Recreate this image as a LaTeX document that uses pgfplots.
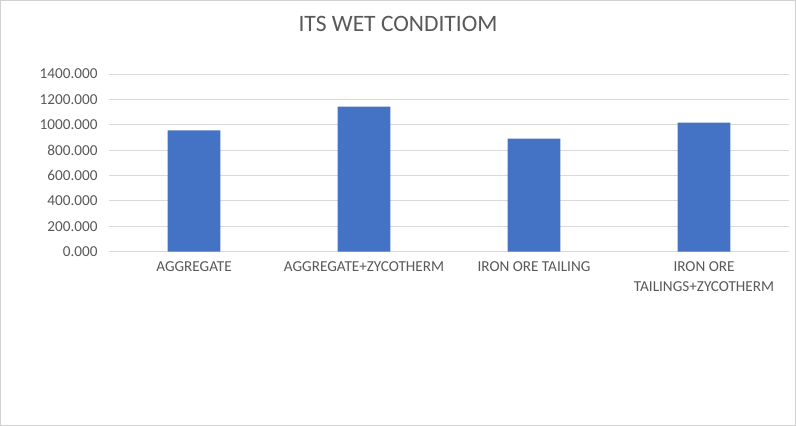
\documentclass[border=0pt]{standalone}
\usepackage{fontspec}
\setmainfont{Carlito}
\usepackage{pgfplots}
\pgfplotsset{compat=1.18}
\definecolor{barblue}{HTML}{4472C4}
\definecolor{gridgray}{HTML}{D9D9D9}
\definecolor{labgray}{HTML}{595959}
\definecolor{framegray}{HTML}{D0D0D0}
\begin{document}
\begin{tikzpicture}
\fill[white] (-109pt,-174.3pt) rectangle (687pt,251.7pt);
\draw[framegray,line width=1.5pt] (-108.25pt,-173.55pt) rectangle (686.25pt,250.95pt);
\begin{axis}[
  at={(0,0)}, anchor=south west,
  scale only axis,
  width=680pt, height=177.7pt,
  xmin=-0.5, xmax=3.5,
  ymin=0, ymax=1400,
  ytick={0,200,...,1400},
  xtick={0,1,2,3},
  xticklabels={AGGREGATE,AGGREGATE+ZYCOTHERM,IRON ORE TAILING,{IRON ORE\\TAILINGS+ZYCOTHERM}},
  axis line style={draw=none},
  major tick length=0pt,
  ymajorgrids,
  grid style={gridgray, line width=1pt},
  /pgf/number format/fixed,
  /pgf/number format/fixed zerofill,
  /pgf/number format/precision=3,
  /pgf/number format/1000 sep={},
  /pgf/number format/assume math mode=true,
  ticklabel style={font=\fontsize{15.2pt}{20pt}\selectfont, text=labgray},
  yticklabel style={xshift=-8pt},
  xticklabel style={align=center, anchor=north, yshift=-6pt},
  ybar, bar width=52.6pt,
  title={ITS WET CONDITIOM},
  title style={font=\fontsize{23.5pt}{27pt}\selectfont, text=labgray, at={(0.425,1)}, anchor=center, yshift=44pt},
  clip=false,
]
\addplot[fill=barblue, draw=none] coordinates {(0,956) (1,1142) (2,890) (3,1016)};
\end{axis}
\pgfresetboundingbox
\useasboundingbox (-109pt,-174.3pt) rectangle (687pt,251.7pt);
\end{tikzpicture}
\end{document}
